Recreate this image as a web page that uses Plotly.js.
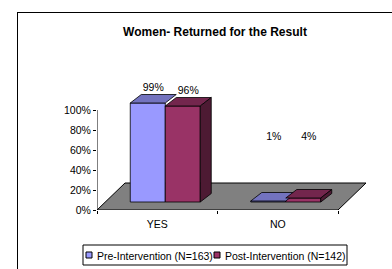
<!DOCTYPE html>
<html>
<head>
<meta charset="utf-8">
<script src="https://cdn.plot.ly/plotly-3.0.1.min.js"></script>
<style>
  html, body { margin: 0; padding: 0; background: #fff; }
  #wrap { position: relative; width: 392px; height: 269px; overflow: hidden; }
  #chart { position: absolute; left: 0; top: 0; width: 392px; height: 269px; }
  #frame { position: absolute; left: 17px; top: 12px; width: 420px; height: 300px;
           border: 1px solid #000; pointer-events: none; }
</style>
</head>
<body>
<div id="wrap">
  <div id="chart"></div>
  <div id="frame"></div>
</div>
<script>
// ---- data ----
const categories = ['YES', 'NO'];
const preValues = [99, 1];
const postValues = [96, 4];
const seriesNames = ['Pre-Intervention (N=163)', 'Post-Intervention (N=142)'];
const yTickVals = [0, 20, 40, 60, 80, 100];
const yTickText = ['0%', '20%', '40%', '60%', '80%', '100%'];
const chartTitle = 'Women- Returned for the Result';

// ---- style / pseudo-3D geometry ----
const FONT = 'Arial, "Liberation Sans", sans-serif';
const FS = 10.5;
const PX_PER_X = 120.5;
const frontDx = 8 / PX_PER_X, frontDy = 8;     // bars sit inside the floor
const depthDx = 11 / PX_PER_X, depthDy = 8.5;  // bar depth
const floorDx = 28 / PX_PER_X, floorDy = 27;   // floor depth
const barW = 35 / PX_PER_X;
const labelMin = 73;
const colors = {
  pre:  { front: '#9999FF', top: '#7373BF', side: '#4D4D80' },
  post: { front: '#993366', top: '#73264D', side: '#4D1A33' }
};

const idx = categories.map((c, i) => i);
const series = [
  { name: seriesNames[0], vals: preValues,  col: colors.pre,  off: -barW, side: false },
  { name: seriesNames[1], vals: postValues, col: colors.post, off: 0,     side: true  }
];

const traces = [];
const faceTraces = [];
const labelX = [], labelY = [], labelT = [];

series.forEach(s => {
  const lefts = idx.map(i => i + frontDx + s.off);
  traces.push({
    type: 'bar',
    name: s.name,
    x: lefts.map(l => l + barW / 2),
    y: s.vals,
    base: s.vals.map(() => frontDy),
    width: s.vals.map(() => barW),
    marker: { color: s.col.front, line: { color: '#000', width: 0.8 } },
    showlegend: false,
    hoverinfo: 'skip'
  });
  s.vals.forEach((v, k) => {
    const x0 = lefts[k], x1 = x0 + barW, yb = frontDy, yt = frontDy + v;
    faceTraces.push({
      type: 'scatter', mode: 'lines', fill: 'toself',
      x: [x0, x1, x1 + depthDx, x0 + depthDx, x0],
      y: [yt, yt, yt + depthDy, yt + depthDy, yt],
      fillcolor: s.col.top, line: { color: '#000', width: 0.8 },
      showlegend: false, hoverinfo: 'skip'
    });
    if (s.side) {
      faceTraces.push({
        type: 'scatter', mode: 'lines', fill: 'toself',
        x: [x1, x1, x1 + depthDx, x1 + depthDx, x1],
        y: [yb, yt, yt + depthDy, yb + depthDy, yb],
        fillcolor: s.col.side, line: { color: '#000', width: 0.8 },
        showlegend: false, hoverinfo: 'skip'
      });
    }
    labelX.push(x0 + barW / 2 + depthDx / 2);
    labelY.push(Math.max(yt + depthDy + 6, labelMin));
    labelT.push(v + '%');
  });
});

traces.push(...faceTraces);
traces.push({
  type: 'scatter', mode: 'text',
  x: labelX, y: labelY, text: labelT,
  textposition: 'middle center',
  textfont: { family: FONT, size: FS, color: '#000' },
  showlegend: false, hoverinfo: 'skip', cliponaxis: false
});

// plot area geometry (px)
const L = 97, R = 10, T = 50, B = 59, W = 392, H = 269;
const plotW = W - L - R, plotH = H - T - B;
const xMin = -0.5, xMax = xMin + plotW / PX_PER_X;
const px2paperX = px => (px - L) / plotW;
const py2paperY = py => (H - B - py) / plotH;

// manual legend (compact like the original)
const legendShapes = [
  { type: 'rect', xref: 'paper', yref: 'paper', layer: 'above',
    x0: px2paperX(83), x1: px2paperX(347), y0: py2paperY(265), y1: py2paperY(245),
    line: { color: '#000', width: 1 }, fillcolor: '#fff' },
  { type: 'rect', xref: 'paper', yref: 'paper', layer: 'above',
    x0: px2paperX(86), x1: px2paperX(92), y0: py2paperY(258), y1: py2paperY(252),
    line: { color: '#000', width: 1 }, fillcolor: colors.pre.front },
  { type: 'rect', xref: 'paper', yref: 'paper', layer: 'above',
    x0: px2paperX(214), x1: px2paperX(220), y0: py2paperY(258), y1: py2paperY(252),
    line: { color: '#000', width: 1 }, fillcolor: colors.post.front }
];
const legendAnn = [
  { xref: 'paper', yref: 'paper', x: px2paperX(94.5), y: py2paperY(255.5),
    xanchor: 'left', yanchor: 'middle', showarrow: false, text: seriesNames[0],
    font: { family: FONT, size: FS, color: '#000' } },
  { xref: 'paper', yref: 'paper', x: px2paperX(222.5), y: py2paperY(255.5),
    xanchor: 'left', yanchor: 'middle', showarrow: false, text: seriesNames[1],
    font: { family: FONT, size: FS, color: '#000' } }
];

const layout = {
  width: W, height: H,
  margin: { l: L, r: R, t: T, b: B, pad: 0 },
  paper_bgcolor: '#fff', plot_bgcolor: 'rgba(0,0,0,0)',
  showlegend: false,
  barmode: 'overlay',
  title: {
    text: '<b>' + chartTitle + '</b>',
    font: { family: FONT, size: 12, color: '#000' },
    x: 215 / W, xref: 'container', xanchor: 'center',
    y: 1 - 31.5 / H, yref: 'container', yanchor: 'middle'
  },
  xaxis: {
    range: [xMin, xMax], fixedrange: true,
    tickmode: 'array', tickvals: idx, ticktext: categories,
    ticks: '', showgrid: false, zeroline: false, showline: false,
    ticklabelstandoff: 6,
    tickfont: { family: FONT, size: FS, color: '#000' },
    minor: { tickmode: 'array', tickvals: [-0.5, 0.5, 1.5], ticks: 'outside',
             ticklen: 3, tickcolor: '#000', tickwidth: 1, showgrid: false }
  },
  yaxis: {
    range: [0, plotH], fixedrange: true,
    tickmode: 'array', tickvals: yTickVals, ticktext: yTickText,
    ticks: 'outside', ticklen: 3, tickcolor: '#000', tickwidth: 1,
    showgrid: false, zeroline: false, showline: false,
    tickfont: { family: FONT, size: FS, color: '#000' }
  },
  shapes: [
    { type: 'path', xref: 'x', yref: 'y', layer: 'below',
      path: `M ${-0.5},0 L 1.5,0 L ${1.5 + floorDx},${floorDy} L ${-0.5 + floorDx},${floorDy} Z`,
      fillcolor: '#808080', line: { color: '#000', width: 1 } },
    { type: 'line', xref: 'x', yref: 'y', layer: 'above',
      x0: -0.5, x1: -0.5, y0: 0, y1: 100, line: { color: '#000', width: 1 } },
    ...legendShapes
  ],
  annotations: legendAnn
};

Plotly.newPlot('chart', traces, layout, { staticPlot: true, displayModeBar: false });
</script>
</body>
</html>
